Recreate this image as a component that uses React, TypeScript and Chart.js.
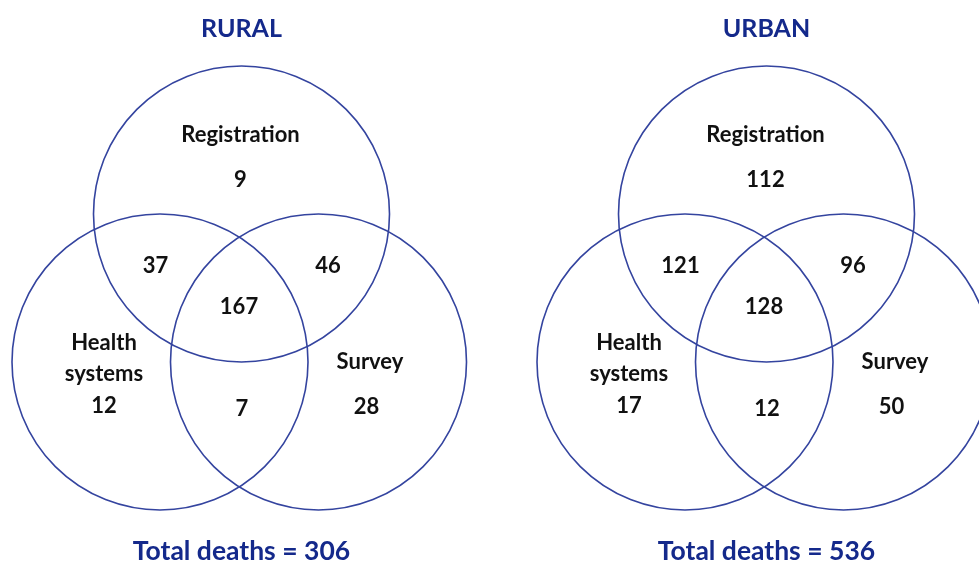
import React, { useEffect, useRef } from "react";
import { Chart, registerables } from "chart.js";

Chart.register(...registerables);

// ---- data ----
const panelTitles = ["RURAL", "URBAN"];
const totalDeaths = [306, 536];
const setNames = [["Registration"], ["Health", "systems"], ["Survey"]];
// region order: Reg only, Health only, Survey only, Reg∩Health, Reg∩Survey, Health∩Survey, all three
const ruralCounts = [9, 12, 28, 37, 46, 7, 167];
const urbanCounts = [112, 17, 50, 121, 96, 12, 128];
const panelCounts = [ruralCounts, urbanCounts];

// ---- layout (data units = canvas pixels) ----
const W = 979;
const H = 561;
const panelX = [241.5, 766.5];
const panelY = 214;
const circleR = 148;
const circleOffsets = [
  [0, 0],
  [-81.5, 148],
  [77, 148],
];
const countOffsets = [
  [-1, -34],
  [-137.5, 192],
  [125, 192.7],
  [-86, 52],
  [86.5, 52],
  [0.5, 195.3],
  [-2.5, 93],
];
const nameOffsets = [
  [-1, -79],
  [-137.5, 129.3],
  [128.5, 147.7],
];
const nameLineGap = 30.7;
const titleDy = -185.5;
const totalDy = 337;

const FONT = "Lato, 'Open Sans', sans-serif";
const LINE_COLOR = "#34449f";
const TITLE_COLOR = "#14298b";
const TEXT_COLOR = "#111111";

const radiusPx = (chart: any) => {
  const s = chart.scales && chart.scales.x;
  if (!s) return circleR;
  return Math.abs(s.getPixelForValue(circleR) - s.getPixelForValue(0));
};

const labelPlugin = {
  id: "vennLabels",
  afterDatasetsDraw(chart: any) {
    const { ctx, scales } = chart;
    const sx = scales.x;
    const sy = scales.y;
    const px = (v: number) => sx.getPixelForValue(v);
    const py = (v: number) => sy.getPixelForValue(v);
    ctx.save();
    ctx.textAlign = "center";
    ctx.textBaseline = "middle";
    panelTitles.forEach((title, p) => {
      const ox = panelX[p];
      const oy = panelY;
      ctx.fillStyle = TITLE_COLOR;
      ctx.font = `bold 25px ${FONT}`;
      ctx.fillText(title, px(ox), py(oy + titleDy));
      ctx.font = `bold 26.5px ${FONT}`;
      ctx.fillText(`Total deaths = ${totalDeaths[p]}`, px(ox), py(oy + totalDy));

      ctx.fillStyle = TEXT_COLOR;
      ctx.font = `bold 22px ${FONT}`;
      setNames.forEach((lines, i) => {
        lines.forEach((line, j) => {
          ctx.fillText(
            line,
            px(ox + nameOffsets[i][0]),
            py(oy + nameOffsets[i][1] + j * nameLineGap)
          );
        });
      });
      panelCounts[p].forEach((c, i) => {
        ctx.fillText(String(c), px(ox + countOffsets[i][0]), py(oy + countOffsets[i][1]));
      });
    });
    ctx.restore();
  },
};

export default function App() {
  const canvasRef = useRef<HTMLCanvasElement | null>(null);

  useEffect(() => {
    if (!canvasRef.current) return;
    const datasets = panelTitles.map((title, p) => ({
      label: title,
      data: circleOffsets.map(([dx, dy]) => ({ x: panelX[p] + dx, y: panelY + dy })),
      showLine: false,
      pointBackgroundColor: "rgba(0,0,0,0)",
      backgroundColor: "rgba(0,0,0,0)",
      pointBorderColor: LINE_COLOR,
      borderColor: LINE_COLOR,
      pointBorderWidth: 1.6,
      pointRadius: (ctx: any) => radiusPx(ctx.chart),
      pointHoverRadius: (ctx: any) => radiusPx(ctx.chart),
      pointHitRadius: 0,
      clip: false as any,
    }));
    const chart = new Chart(canvasRef.current, {
      type: "scatter",
      data: { datasets },
      options: {
        animation: false,
        responsive: false,
        maintainAspectRatio: false,
        events: [],
        layout: { padding: 0 },
        plugins: {
          legend: { display: false },
          tooltip: { enabled: false },
          title: { display: false },
        },
        scales: {
          x: { type: "linear", min: 0, max: W, display: false },
          y: { type: "linear", min: 0, max: H, reverse: true, display: false },
        },
      },
      plugins: [labelPlugin],
    });
    return () => chart.destroy();
  }, []);

  return (
    <div style={{ position: "absolute", left: 0, top: 0, width: W, height: H, background: "#fff" }}>
      <canvas ref={canvasRef} width={W} height={H} style={{ display: "block" }} />
    </div>
  );
}
